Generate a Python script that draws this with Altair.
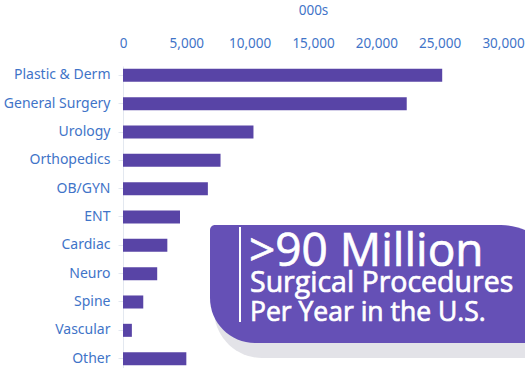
import altair as alt
import pandas as pd

categories = ["Plastic & Derm", "General Surgery", "Urology", "Orthopedics", "OB/GYN",
              "ENT", "Cardiac", "Neuro", "Spine", "Vascular", "Other"]
procedures_000s = [25200, 22400, 10300, 7700, 6700, 4500, 3500, 2700, 1600, 700, 5000]
tick_values = [0, 5000, 10000, 15000, 20000, 25000, 30000]

callout_lines = [">90 Million", "Surgical Procedures", "Per Year in the U.S."]

df = pd.DataFrame({"category": categories, "value": procedures_000s})
one = pd.DataFrame({"k": [0]})

LABEL = "#3F74C8"
BAR = "#5844A6"
BOX = "#6550B6"

bars = alt.Chart(df).mark_bar(color=BAR).encode(
    x=alt.X("value:Q",
            scale=alt.Scale(domain=[0, 30000], nice=False),
            axis=alt.Axis(orient="top", title="000s", values=tick_values,
                          format=",.0f", grid=False, domain=False, ticks=False,
                          labelOverlap=False, labelFlush=False,
                          labelColor=LABEL, labelFontSize=13.5, labelPadding=16,
                          labelFont="Noto Sans", titleFont="Noto Sans",
                          titleColor=LABEL, titleFontSize=13.5, titleFontWeight="normal",
                          titlePadding=19)),
    y=alt.Y("category:N", sort=categories,
            scale=alt.Scale(paddingInner=0.54, paddingOuter=0.1),
            axis=alt.Axis(title=None, labelColor=LABEL, labelFontSize=14, labelFont="Noto Sans",
                          domainColor="#e3e8f0", tickColor="#e3e8f0", tickSize=5,
                          labelPadding=8)),
)

shadow = alt.Chart(one).mark_rect(
    color="#dcdce2", opacity=0.8,
    cornerRadiusTopLeft=6, cornerRadiusBottomLeft=48, cornerRadiusTopRight=60, cornerRadiusBottomRight=0
).encode(x=alt.value(214 - 123), x2=alt.value(560 - 123), y=alt.value(233 - 66), y2=alt.value(358 - 66))

box = alt.Chart(one).mark_rect(
    color=BOX,
    cornerRadiusTopLeft=5, cornerRadiusBottomLeft=45, cornerRadiusTopRight=60, cornerRadiusBottomRight=0
).encode(x=alt.value(210 - 123), x2=alt.value(560 - 123), y=alt.value(225 - 66), y2=alt.value(343 - 66))

vline = alt.Chart(one).mark_rule(color="white", strokeWidth=2).encode(
    x=alt.value(240 - 123), y=alt.value(227 - 66), y2=alt.value(322 - 66))

def line_text(txt, size, x, y):
    return alt.Chart(one).mark_text(align="left", baseline="alphabetic", color="white",
                                    stroke="white", strokeWidth=0.7,
                                    font="Open Sans", fontSize=size).encode(
        x=alt.value(x - 123), y=alt.value(y - 66), text=alt.value(txt))

t1 = line_text(callout_lines[0], 46, 249, 266)
t2 = line_text(callout_lines[1], 28.5, 250, 292)
t3 = line_text(callout_lines[2], 26.5, 250, 321)

chart = alt.layer(bars, shadow, box, vline, t1, t2, t3).properties(
    width=380, height=302,
    autosize=alt.AutoSizeParams(type="none"),
    padding={"left": 123, "top": 66, "right": 22, "bottom": 0},
    background="white",
).configure_view(stroke=None)

chart.save("out.html", embed_options={"renderer": "svg", "actions": False})
